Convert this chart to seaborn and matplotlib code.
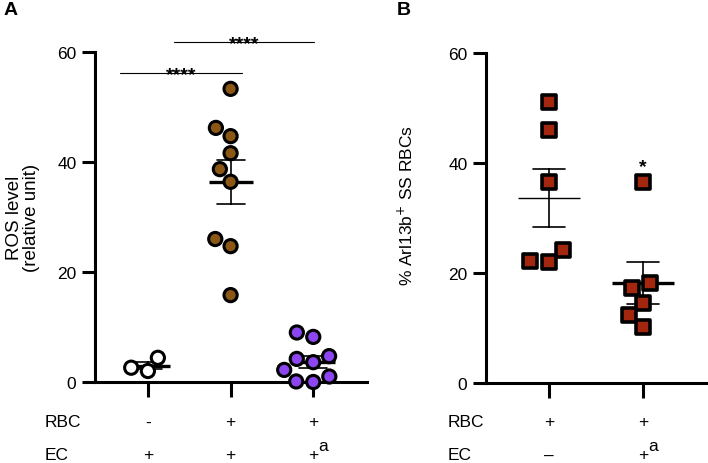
import numpy as np
import pandas as pd
import seaborn as sns
import matplotlib.pyplot as plt
import matplotlib.transforms as mtransforms

# panel A: ROS level
groups_a = ['ctrl', 'rbc', 'rbc_a']
ctrl_vals = [2.0, 4.4, 2.6]
rbc_vals = [53.3, 46.2, 44.7, 41.6, 38.7, 36.4, 26.0, 24.7, 15.8]
rbc_a_vals = [8.2, 9.0, 3.6, 4.2, 4.7, 2.2, 0.0, 0.1, 1.0]
colors_a = {'ctrl': 'white', 'rbc': '#8B5714', 'rbc_a': '#8C45F0'}
rbc_row_a = ['-', '+', '+']
ec_row_a = ['+', '+', '+']
sup_a = ['', '', 'a']

# panel B: % Arl13b+ SS RBCs
groups_b = ['no_ec', 'ec_a']
no_ec_vals = [51.1, 46.0, 36.5, 22.0, 24.2, 22.1]
ec_a_vals = [36.5, 17.2, 14.5, 10.2, 18.1, 12.4]
color_b = '#A3260E'
rbc_row_b = ['+', '+']
ec_row_b = ['\u2013', '+']
sup_b = ['', 'a']

sns.set_style('ticks', rc={'axes.edgecolor': 'black', 'text.color': 'black',
                           'xtick.color': 'black', 'ytick.color': 'black',
                           'axes.labelcolor': 'black'})
plt.rcParams['font.family'] = ['Liberation Sans', 'DejaVu Sans']

df_a = pd.DataFrame({
    'group': ['ctrl'] * len(ctrl_vals) + ['rbc'] * len(rbc_vals) + ['rbc_a'] * len(rbc_a_vals),
    'value': ctrl_vals + rbc_vals + rbc_a_vals,
})
df_b = pd.DataFrame({
    'group': ['no_ec'] * len(no_ec_vals) + ['ec_a'] * len(ec_a_vals),
    'value': no_ec_vals + ec_a_vals,
})

fig = plt.figure(figsize=(7.08, 4.64), dpi=100)
W, H = 708, 464
ax_a = fig.add_axes([95 / W, 1 - 383 / H, (367 - 95) / W, 330 / H])
ax_b = fig.add_axes([486 / W, 1 - 384 / H, (707 - 486) / W, 330 / H])


def mean_sem(ax, df, order, group, width, mew, capsize):
    sub = df[df['group'] == group]
    sns.pointplot(data=sub, x='group', y='value', order=order, errorbar='se',
                  capsize=capsize, marker='_', markersize=width, markeredgewidth=mew,
                  linestyle='none', color='black', err_kws={'linewidth': 1.2},
                  ax=ax)


# means +/- SEM
for g in groups_a:
    mean_sem(ax_a, df_a, groups_a, g, 32, 2.4, 0.34)
mean_sem(ax_b, df_b, groups_b, 'no_ec', 45, 1.0, 0.34)
mean_sem(ax_b, df_b, groups_b, 'ec_a', 45, 2.4, 0.34)

sns.swarmplot(data=df_a, x='group', y='value', order=groups_a, hue='group',
              palette=colors_a, size=9.5, linewidth=2.2, edgecolor='black',
              legend=False, zorder=3, ax=ax_a)
sns.swarmplot(data=df_b, x='group', y='value', order=groups_b, color=color_b,
              marker='s', size=10.5, linewidth=2.6, edgecolor='black',
              zorder=3, ax=ax_b)

for ax, n, xlim in [(ax_a, 3, (-0.64, 2.65)), (ax_b, 2, (-0.67, 1.68))]:
    for c in ax.collections:
        c.set_clip_on(False)
    for ln in ax.lines:
        ln.set_clip_on(False)
    ax.set_xlim(*xlim)
    ax.set_ylim(0, 60)
    ax.set_yticks([0, 20, 40, 60])
    ax.set_xticks(range(n))
    ax.set_xticklabels([''] * n)
    ax.set_xlabel('')
    sns.despine(ax=ax)
    for s in ['left', 'bottom']:
        ax.spines[s].set_linewidth(2.2)
    ax.tick_params(axis='y', length=9.4, width=2.2, labelsize=12.5, pad=4)
    ax.tick_params(axis='x', length=10.8, width=2.2)

ax_a.set_ylabel('ROS level\n(relative unit)', fontsize=13.5, linespacing=1.0)
ax_a.yaxis.set_label_coords((40 - 95) / 272, 0.5)
ax_b.set_ylabel('% Arl13b$^{+}$ SS RBCs', fontsize=12.5)
ax_b.yaxis.set_label_coords((416 - 486) / 221, 0.54)

# significance marks
for x0, x1, y in [(-0.34, 1.14, 56.2), (0.31, 2.01, 61.8)]:
    ax_a.plot([x0, x1], [y, y], color='black', lw=0.8, clip_on=False)
    ax_a.text((x0 + x1) / 2, y - 1.1, '****', ha='center', va='baseline',
              fontsize=14, fontweight='bold')
ax_b.text(1, 38.6, '*', ha='center', va='baseline', fontsize=14, fontweight='bold')

# condition rows under the axes
for ax, rbc_row, ec_row, sups in [(ax_a, rbc_row_a, ec_row_a, sup_a),
                                  (ax_b, rbc_row_b, ec_row_b, sup_b)]:
    tr = mtransforms.blended_transform_factory(ax.transData, fig.transFigure)
    for i, (r, e, s) in enumerate(zip(rbc_row, ec_row, sups)):
        ax.text(i, 1 - 423 / H, r, transform=tr, ha='center', va='center', fontsize=12.5)
        ax.text(i, 1 - 456 / H, e, transform=tr, ha='center', va='center', fontsize=12.5)
        if s:
            tr_s = mtransforms.offset_copy(tr, fig=fig, x=5, y=0, units='dots')
            ax.text(i, 1 - 447 / H, s, transform=tr_s, ha='left', va='center', fontsize=12.5)

for x in [45, 448]:
    fig.text(x / W, 1 - 423 / H, 'RBC', ha='left', va='center', fontsize=12.5)
    fig.text(x / W, 1 - 456 / H, 'EC', ha='left', va='center', fontsize=12.5)

fig.text(4 / W, 1 - 2 / H, 'A', ha='left', va='top', fontsize=14, fontweight='bold')
fig.text(397 / W, 1 - 2 / H, 'B', ha='left', va='top', fontsize=14, fontweight='bold')

fig.savefig('out.png', dpi=100)
